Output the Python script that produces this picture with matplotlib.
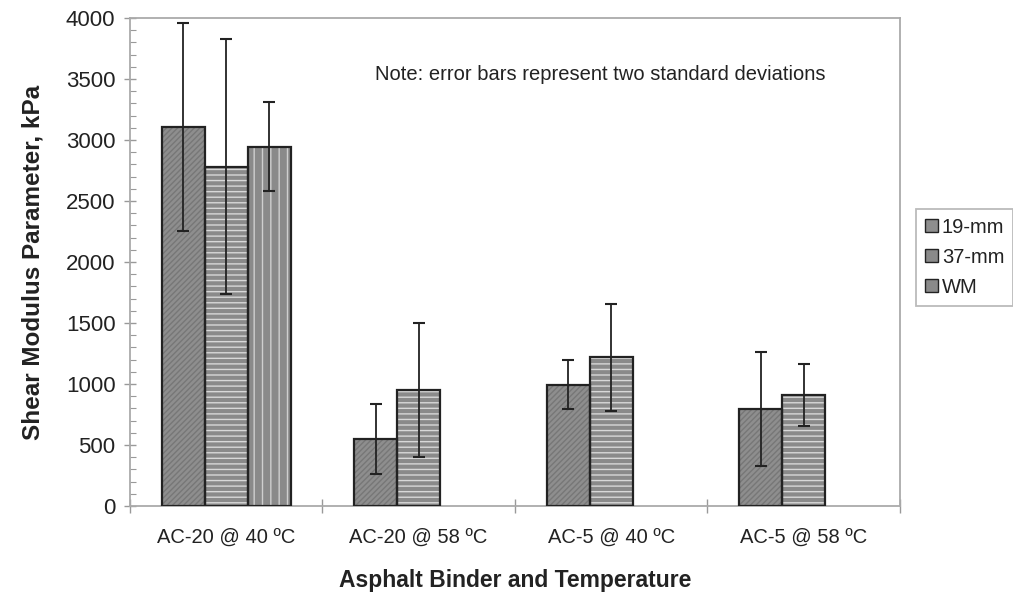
import matplotlib
matplotlib.use("Agg")
import matplotlib.pyplot as plt
import numpy as np
from matplotlib.ticker import MultipleLocator, FixedLocator
from matplotlib.patches import Patch

categories = ["AC-20 @ 40 ºC", "AC-20 @ 58 ºC", "AC-5 @ 40 ºC", "AC-5 @ 58 ºC"]
series = ["19-mm", "37-mm", "WM"]
vals_19 = [3105, 550, 995, 795]
vals_37 = [2780, 950, 1218, 912]
vals_wm = [2945, np.nan, np.nan, np.nan]
err_19 = [855, 288, 200, 470]
err_37 = [1045, 548, 437, 255]
err_wm = [365, np.nan, np.nan, np.nan]

plt.rcParams['font.family'] = ['Liberation Sans', 'DejaVu Sans']

fig = plt.figure(figsize=(10.13, 5.98), dpi=100)
ax = fig.add_axes([0.1283, 0.1538, 0.76, 0.8162])

x = np.arange(len(categories))
w = 0.2234
styles = [
    dict(fc='#8e8e8e', hatch='//////', hc='#777777'),
    dict(fc='#8a8a8a', hatch='---', hc='#d8d8d8'),
    dict(fc='#8a8a8a', hatch='||', hc='#cfcfcf'),
]
data = [(vals_19, err_19), (vals_37, err_37), (vals_wm, err_wm)]
handles = []
for i, ((v, e), st) in enumerate(zip(data, styles)):
    pos = x + (i - 1) * w
    ax.bar(pos, v, w, color=st['fc'], hatch=st['hatch'], edgecolor=st['hc'],
           linewidth=0, zorder=2)
    ax.bar(pos, v, w, facecolor='none', edgecolor='#222222', linewidth=1.6, zorder=3)
    ax.errorbar(pos, v, yerr=e, fmt='none', ecolor='#222222', elinewidth=1.3,
                capsize=4.5, capthick=1.5, zorder=4)
    handles.append(Patch(facecolor=st['fc'], edgecolor='#222222', linewidth=1.0))

ax.set_xlim(-0.5, 3.5)
ax.set_ylim(0, 4000)
ax.yaxis.set_major_locator(MultipleLocator(500))
ax.yaxis.set_minor_locator(MultipleLocator(100))
ax.tick_params(axis='y', which='major', direction='inout', length=9, width=1,
               color='#999999', labelsize=16, labelcolor='#222222', pad=6)
ax.tick_params(axis='y', which='minor', direction='in', length=4, width=0.8,
               color='#999999')
ax.set_xticks(x)
ax.set_xticklabels(categories)
ax.xaxis.set_minor_locator(FixedLocator([-0.5, 0.5, 1.5, 2.5, 3.5]))
ax.tick_params(axis='x', which='major', length=0, labelsize=14.5, labelcolor='#222222', pad=16)
ax.tick_params(axis='x', which='minor', direction='inout', length=10, width=1, color='#999999')
for s in ax.spines.values():
    s.set_color('#aaaaaa')
    s.set_linewidth(1.3)

ax.set_ylabel("Shear Modulus Parameter, kPa", fontsize=17.5, fontweight='bold',
              color='#222222', labelpad=15)
ax.set_xlabel("Asphalt Binder and Temperature", fontsize=16.5, fontweight='bold',
              color='#222222', labelpad=16)

ax.text(0.611, 0.885, "Note: error bars represent two standard deviations",
        transform=ax.transAxes, ha='center', va='center', fontsize=14.5, color='#222222')

leg = fig.legend(handles, series, loc='center left', bbox_to_anchor=(0.904, 0.57),
                 fontsize=14.5, frameon=True, fancybox=False, edgecolor='#aaaaaa',
                 handlelength=0.65, handleheight=0.65, handletextpad=0.2,
                 labelspacing=0.55, borderpad=0.45, borderaxespad=0.0,
                 labelcolor='#222222')
leg.get_frame().set_linewidth(1.3)

fig.savefig("out.png", dpi=100)
